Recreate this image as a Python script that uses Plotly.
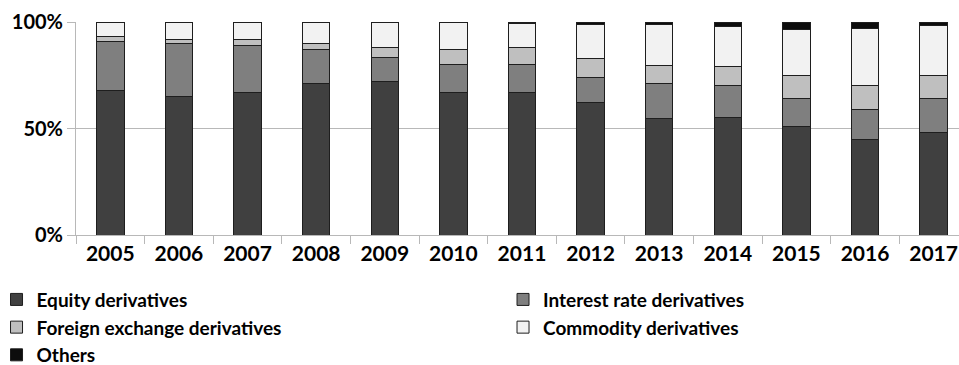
import plotly.graph_objects as go

# Share of each derivative class in total turnover (%), 2005-2017
years = ["2005", "2006", "2007", "2008", "2009", "2010", "2011",
         "2012", "2013", "2014", "2015", "2016", "2017"]
equity = [68, 65, 67, 71, 72, 67, 67, 62, 54.5, 55, 51, 45, 48]
interest_rate = [23, 25, 22, 16, 11.5, 13, 13, 12, 16.5, 15, 13, 14, 16]
foreign_exchange = [2, 2, 3, 3, 4.5, 7, 8, 9, 8.5, 9, 11, 11, 11]
commodity = [7, 8, 8, 10, 12, 13, 11.5, 16, 19.5, 19, 21.5, 27, 23.5]
others = [0, 0, 0, 0, 0, 0, 0.5, 1, 1, 2, 3.5, 3, 1.5]

y_ticks = [0, 50, 100]
y_tick_labels = ["0%", "50%", "100%"]

FONT = "Lato, Roboto, sans-serif"
GRID = "#b8b8b8"
EDGE = "#1e1e1e"

series = [
    ("Equity derivatives", equity, "#404040", "legend"),
    ("Interest rate derivatives", interest_rate, "#7f7f7f", "legend2"),
    ("Foreign exchange derivatives", foreign_exchange, "#bfbfbf", "legend"),
    ("Commodity derivatives", commodity, "#f2f2f2", "legend2"),
    ("Others", others, "#0d0d0d", "legend"),
]

fig = go.Figure()
for name, vals, color, leg in series:
    fig.add_trace(go.Bar(
        x=years, y=vals, name=name, legend=leg,
        marker=dict(color=color, line=dict(color=EDGE, width=1)),
    ))

legend_font = dict(family=FONT, size=19, color="black", weight="bold")

fig.update_layout(
    width=959, height=365,
    margin=dict(l=76, r=0, t=22, b=130, autoexpand=False),
    paper_bgcolor="white", plot_bgcolor="white",
    barmode="stack", bargap=0.6,
    font=dict(family=FONT, color="black"),
    legend=dict(orientation="v", x=-0.09, xanchor="left", y=-0.214, yanchor="top",
                font=legend_font, bgcolor="rgba(0,0,0,0)", traceorder="normal"),
    legend2=dict(orientation="v", x=0.4836, xanchor="left", y=-0.214, yanchor="top",
                 font=legend_font, bgcolor="rgba(0,0,0,0)", traceorder="normal"),
    xaxis=dict(
        type="category", range=[-0.5, 12.37],
        showline=True, linecolor=GRID, linewidth=1,
        ticks="outside", tickson="boundaries", ticklen=8, tickcolor=GRID,
        showgrid=False,
        tickfont=dict(family=FONT, size=21, color="black", weight="bold"),
    ),
    yaxis=dict(
        range=[0, 100], tickvals=y_ticks, ticktext=y_tick_labels,
        showline=True, linecolor=GRID, linewidth=1,
        ticks="outside", ticklen=8, tickcolor=GRID,
        showgrid=True, gridcolor=GRID, gridwidth=1, zeroline=False,
        tickfont=dict(family=FONT, size=20, color="black", weight="bold"),
    ),
)

fig.write_html("out.html")
